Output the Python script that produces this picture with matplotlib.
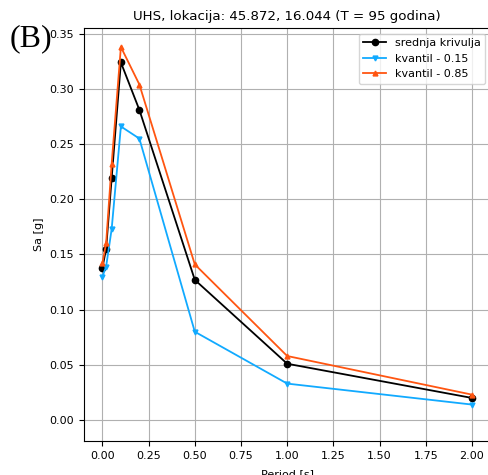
import matplotlib
matplotlib.use("Agg")
import matplotlib.pyplot as plt

periods = [0.0, 0.02, 0.05, 0.1, 0.2, 0.5, 1.0, 2.0]
mean_sa = [0.138, 0.155, 0.219, 0.324, 0.281, 0.127, 0.051, 0.020]
q15_sa = [0.130, 0.139, 0.173, 0.266, 0.255, 0.080, 0.033, 0.014]
q85_sa = [0.142, 0.160, 0.232, 0.338, 0.304, 0.141, 0.058, 0.023]

plt.rcParams["font.size"] = 8

fig = plt.figure(figsize=(4.88, 4.75), dpi=100)
ax = fig.add_axes([0.172, 0.0716, 0.833, 0.869])

ax.plot(periods, mean_sa, color="black", marker="o", linewidth=1.3, markersize=4.5, label="srednja krivulja")
ax.plot(periods, q15_sa, color="#11aaff", marker="v", linewidth=1.3, markersize=3.5, label="kvantil - 0.15")
ax.plot(periods, q85_sa, color="#ff5511", marker="^", linewidth=1.3, markersize=3.5, label="kvantil - 0.85")

ax.set_xlim(-0.1, 2.1)
ax.set_ylim(-0.019, 0.355)
ax.set_xticks([0, 0.25, 0.5, 0.75, 1.0, 1.25, 1.5, 1.75, 2.0])
ax.tick_params(labelsize=8)
ax.grid(True)
ax.set_xlabel("Period [s]", fontsize=8, labelpad=6)
ax.set_ylabel("Sa [g]", fontsize=8)
ax.set_title("UHS, lokacija: 45.872, 16.044 (T = 95 godina)", fontsize=9.6)
ax.legend(loc="upper right", fontsize=8)

fig.text(0.02, 0.903, "(B)", fontsize=23, family="Liberation Serif", va="baseline")

fig.savefig("out.png", dpi=100)
